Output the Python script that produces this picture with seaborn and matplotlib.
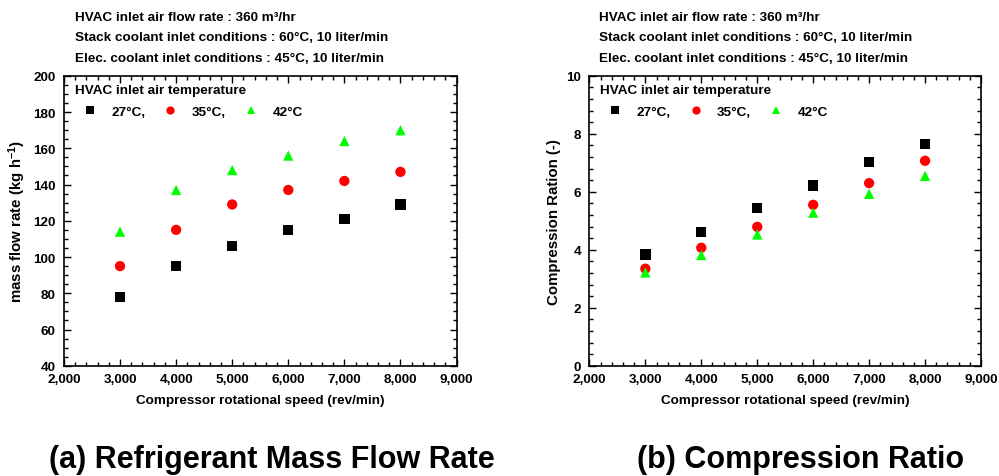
import numpy as np
import pandas as pd
import seaborn as sns
import matplotlib.pyplot as plt
from matplotlib.ticker import MultipleLocator, StrMethodFormatter

# --- data -------------------------------------------------------------------
speed = [3000, 4000, 5000, 6000, 7000, 8000]
temps = ["27°C,", "35°C,", "42°C"]

mass_27 = [78, 95, 106, 115, 121, 129]
mass_35 = [95, 115, 129, 137, 142, 147]
mass_42 = [114, 137, 148, 156, 164, 170]

cr_27 = [3.84, 4.62, 5.43, 6.22, 7.02, 7.66]
cr_35 = [3.35, 4.07, 4.79, 5.55, 6.30, 7.07]
cr_42 = [3.22, 3.82, 4.53, 5.28, 5.93, 6.55]

header = ["HVAC inlet air flow rate : 360 m³/hr",
          "Stack coolant inlet conditions : 60°C, 10 liter/min",
          "Elec. coolant inlet conditions : 45°C, 10 liter/min"]


def long_df(series):
    rows = []
    for t, vals in zip(temps, series):
        for s, v in zip(speed, vals):
            rows.append(dict(speed=s, value=v, temp=t))
    return pd.DataFrame(rows)


mass_df = long_df([mass_27, mass_35, mass_42])
cr_df = long_df([cr_27, cr_35, cr_42])

# --- style -------------------------------------------------------------------
sns.set_theme(style="ticks")
plt.rcParams["font.family"] = ["Liberation Sans", "DejaVu Sans"]
plt.rcParams["font.weight"] = "bold"
plt.rcParams["mathtext.fontset"] = "custom"
plt.rcParams["mathtext.rm"] = "Liberation Sans:bold"
plt.rcParams["mathtext.it"] = "Liberation Sans:bold"
plt.rcParams["mathtext.bf"] = "Liberation Sans:bold"
plt.rcParams["mathtext.default"] = "rm"
for key in ("text.color", "axes.labelcolor", "xtick.color", "ytick.color",
            "xtick.labelcolor", "ytick.labelcolor"):
    plt.rcParams[key] = "black"

palette = {temps[0]: "black", temps[1]: "#ff0000", temps[2]: "#00ff00"}
markers = {temps[0]: "s", temps[1]: "o", temps[2]: "^"}

fig = plt.figure(figsize=(9.99, 4.77), dpi=100)
ax1 = fig.add_axes([0.064, 0.231, 0.393, 0.608])
ax2 = fig.add_axes([0.590, 0.231, 0.392, 0.608])

FS = 9.7


def draw(ax, df, ylim, major, minor, ylabel):
    sns.scatterplot(data=df, x="speed", y="value", hue="temp", style="temp",
                    palette=palette, markers=markers, s=55, linewidth=0,
                    ax=ax)
    ax.set_xlim(2000, 9000)
    ax.set_ylim(*ylim)
    ax.xaxis.set_major_locator(MultipleLocator(1000))
    ax.xaxis.set_minor_locator(MultipleLocator(200))
    ax.yaxis.set_major_locator(MultipleLocator(major))
    ax.yaxis.set_minor_locator(MultipleLocator(minor))
    ax.xaxis.set_major_formatter(StrMethodFormatter("{x:,.0f}"))
    ax.tick_params(which="both", direction="in", top=True, right=True,
                   labelsize=FS, width=1, color="black")
    ax.tick_params(axis="x", which="major", pad=5)
    ax.tick_params(axis="y", which="major", pad=6)
    ax.tick_params(which="major", length=5)
    ax.tick_params(which="minor", length=3)
    for sp in ax.spines.values():
        sp.set_linewidth(1.2)
        sp.set_color("black")
    ax.set_xlabel("Compressor rotational speed (rev/min)", fontsize=FS,
                  fontweight="bold", labelpad=7)
    ax.set_ylabel(ylabel, fontsize=10.8, fontweight="bold", labelpad=4)
    sns.move_legend(ax, "upper left", ncol=3, frameon=False,
                    title="HVAC inlet air temperature",
                    bbox_to_anchor=(0.0, 1.01),
                    prop={"weight": "bold", "size": FS},
                    title_fontproperties={"weight": "bold", "size": FS},
                    columnspacing=0.75, handletextpad=0.5, markerscale=0.8,
                    borderpad=0.3, handlelength=2.2, labelspacing=0.7)
    ax.get_legend()._legend_box.align = "left"


draw(ax1, mass_df, (40, 200), 20, 5, "mass flow rate (kg h$^{-1}$)")
draw(ax2, cr_df, (0, 10), 2, 0.4, "Compression Ration (-)")

for x0 in (0.075, 0.600):
    for i, line in enumerate(header):
        fig.text(x0, 0.963 - i * 0.043, line, fontsize=FS,
                 fontweight="bold", va="center", ha="left")

fig.text(0.272, 0.035, "(a) Refrigerant Mass Flow Rate", fontsize=22,
         fontweight="bold", ha="center", va="center")
fig.text(0.801, 0.035, "(b) Compression Ratio", fontsize=22,
         fontweight="bold", ha="center", va="center")

fig.savefig("out.png", dpi=100)
